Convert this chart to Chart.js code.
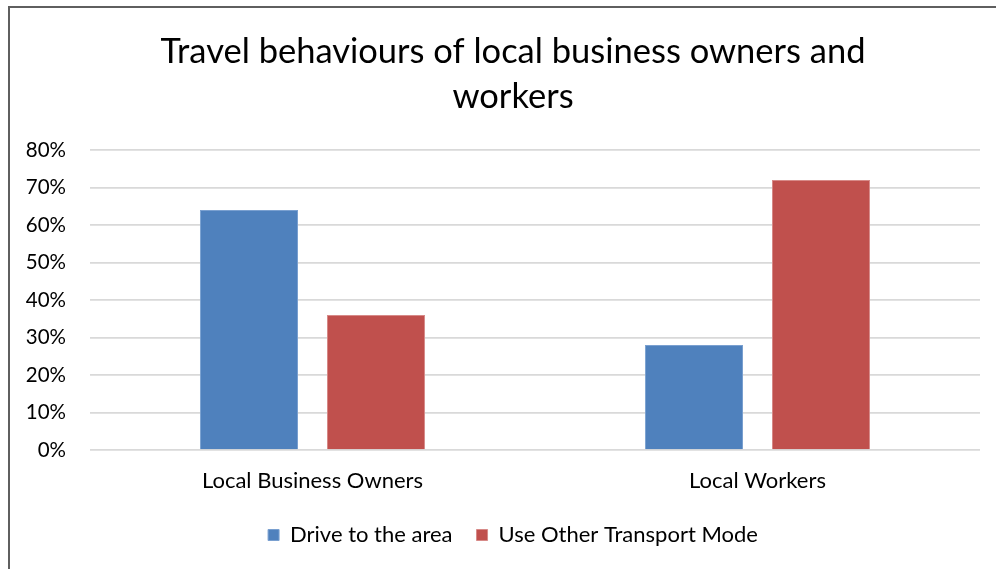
<!DOCTYPE html>
<html>
<head>
<meta charset="utf-8">
<title>Travel behaviours</title>
<script src="https://cdn.jsdelivr.net/npm/chart.js@4/dist/chart.umd.min.js"></script>
<style>
    html, body { margin: 0; padding: 0; background: #fff; overflow: hidden; }
    #wrap { position: relative; width: 996px; height: 569px; }
    #frame {
        position: absolute; left: 8px; top: 6px; width: 1000px; height: 600px;
        border: 2px solid #5f5f5f; box-sizing: border-box;
    }
    canvas { position: absolute; left: 0; top: 0; }
</style>
</head>
<body>
<div id="wrap">
    <div id="frame"></div>
    <canvas id="travelChart" width="996" height="569"></canvas>
</div>
<script>
// Share of respondents by group and travel mode
const groups = ['Local Business Owners', 'Local Workers'];
const driveShare = [0.64, 0.28];
const otherModeShare = [0.36, 0.72];
const titleLines = ['Travel behaviours of local business owners and', 'workers'];

const FONT = 'Lato, "Open Sans", sans-serif';

const ctx = document.getElementById('travelChart');

new Chart(ctx, {
    type: 'bar',
    data: {
        labels: groups,
        datasets: [
            {
                label: 'Drive to the area',
                data: driveShare,
                backgroundColor: '#4f81bd',
                borderColor: '#7aa0d0',
                borderWidth: 1
            },
            {
                label: 'Use Other Transport Mode',
                data: otherModeShare,
                backgroundColor: '#c0504d',
                borderColor: '#d78a88',
                borderWidth: 1
            }
        ]
    },
    options: {
        responsive: false,
        animation: false,
        // the chart box runs past the right edge of the canvas,
        // so title and legend centre on the wider box
        layout: {
            padding: { left: 0, right: -30, top: 0, bottom: 13 }
        },
        datasets: {
            bar: {
                categoryPercentage: 0.571,
                barPercentage: 0.772
            }
        },
        plugins: {
            title: {
                display: true,
                text: titleLines,
                color: '#000',
                font: { family: FONT, size: 34.5, weight: 'normal', lineHeight: 1.304 },
                padding: { top: 29, bottom: 31 }
            },
            legend: {
                position: 'bottom',
                labels: {
                    boxWidth: 11,
                    boxHeight: 11,
                    padding: 24,
                    color: '#000',
                    font: { family: FONT, size: 22 }
                }
            },
            tooltip: { enabled: false }
        },
        scales: {
            x: {
                afterFit: (scale) => { scale.height = 50; },
                grid: { display: false, drawTicks: false },
                border: { display: false },
                ticks: {
                    color: '#000',
                    padding: 18,
                    font: { family: FONT, size: 22 }
                }
            },
            y: {
                min: 0,
                max: 0.8,
                afterFit: (scale) => { scale.width = 90; },
                grid: { color: '#d9d9d9', lineWidth: 1.75, drawTicks: false },
                border: { display: false },
                ticks: {
                    stepSize: 0.1,
                    color: '#000',
                    padding: 24,
                    font: { family: FONT, size: 20.5 },
                    callback: (v) => Math.round(v * 100) + '%'
                }
            },
            // empty right-hand margin between the plot and the chart edge
            yRight: {
                position: 'right',
                min: 0,
                max: 0.8,
                afterFit: (scale) => { scale.width = 46; },
                grid: { display: false, drawTicks: false },
                border: { display: false },
                ticks: { display: false }
            }
        }
    }
});
</script>
</body>
</html>
